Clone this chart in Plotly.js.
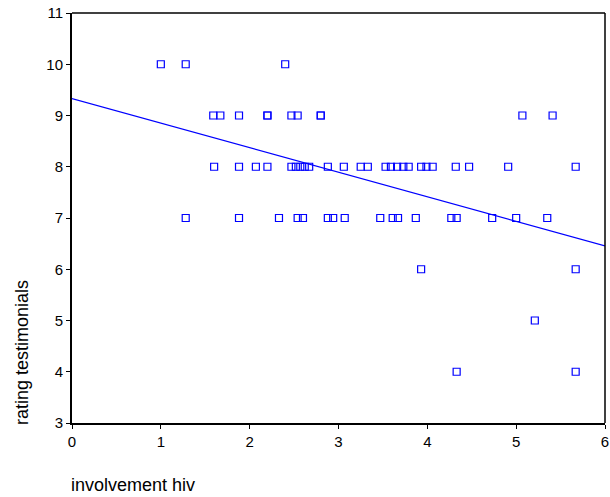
<!DOCTYPE html>
<html>
<head>
<meta charset="utf-8">
<script src="https://cdn.plot.ly/plotly-3.0.1.min.js"></script>
<style>html,body{margin:0;padding:0;background:#fff;}#chart{width:610px;height:497px;}</style>
</head>
<body>
<div id="chart"></div>
<script>
// involvement hiv (x) and rating testimonials (y)
const involvement = [
  1.00, 1.28, 2.40,
  1.59, 1.67, 1.88, 2.20, 2.20, 2.47, 2.54, 2.80, 2.80, 5.07, 5.41,
  1.60, 1.88, 2.07, 2.20, 2.47, 2.52, 2.57, 2.62, 2.67, 2.88, 3.06, 3.25, 3.33,
  3.53, 3.59, 3.66, 3.73, 3.79, 3.93, 3.99, 4.06, 4.32, 4.47, 4.91, 5.67,
  1.28, 1.88, 2.33, 2.54, 2.60, 2.88, 2.94, 3.07, 3.47, 3.61, 3.67, 3.87, 4.27, 4.33, 4.73, 5.00, 5.35,
  3.93, 5.67,
  5.21,
  4.33, 5.67
];
const rating = [
  10, 10, 10,
  9, 9, 9, 9, 9, 9, 9, 9, 9, 9, 9,
  8, 8, 8, 8, 8, 8, 8, 8, 8, 8, 8, 8, 8,
  8, 8, 8, 8, 8, 8, 8, 8, 8, 8, 8, 8,
  7, 7, 7, 7, 7, 7, 7, 7, 7, 7, 7, 7, 7, 7, 7, 7, 7,
  6, 6,
  5,
  4, 4
];
// fitted regression line end points
const fitX = [0, 6];
const fitY = [9.33, 6.455];

const xTicks = [0, 1, 2, 3, 4, 5, 6];
const yTicks = [3, 4, 5, 6, 7, 8, 9, 10, 11];

const blue = '#0000ff';
const font = 'Liberation Sans, Arial, Helvetica, sans-serif';

const data = [
  {
    type: 'scatter', mode: 'markers', x: involvement, y: rating,
    marker: {symbol: 'square-open', size: 7, color: blue, line: {width: 1.2, color: blue}},
    hoverinfo: 'x+y', showlegend: false
  },
  {
    type: 'scatter', mode: 'lines', x: fitX, y: fitY,
    line: {color: blue, width: 1.2}, showlegend: false, hoverinfo: 'skip'
  }
];

const layout = {
  width: 610, height: 497,
  margin: {l: 72, r: 5, t: 13, b: 74, pad: 0},
  paper_bgcolor: '#fff', plot_bgcolor: '#fff',
  font: {family: font, size: 15, color: '#000'},
  showlegend: false,
  xaxis: {
    range: [0, 6], tickvals: xTicks, ticktext: xTicks.map(String),
    showgrid: false, zeroline: false, showline: true, linecolor: '#000', linewidth: 2,
    ticks: 'outside', ticklen: 4, tickwidth: 1, tickcolor: '#000',
    tickfont: {size: 15, color: '#000', family: font}
  },
  yaxis: {
    range: [3, 11], tickvals: yTicks, ticktext: yTicks.map(String),
    showgrid: false, zeroline: false, showline: true, linecolor: '#000', linewidth: 2,
    ticks: 'outside', ticklen: 4, tickwidth: 1, tickcolor: '#000',
    tickfont: {size: 15, color: '#000', family: font}
  },
  shapes: [
    {type: 'line', xref: 'paper', yref: 'paper', x0: 0, x1: 1, y0: 1, y1: 1, line: {color: '#000', width: 1.5}},
    {type: 'line', xref: 'paper', yref: 'paper', x0: 1, x1: 1, y0: 0, y1: 1, line: {color: '#000', width: 1.5}}
  ],
  annotations: [
    {text: 'involvement hiv', xref: 'paper', yref: 'paper', x: -0.006, y: -0.152,
     xanchor: 'left', yanchor: 'middle', showarrow: false, font: {size: 18, family: font, color: '#000'}},
    {text: 'rating testimonials', xref: 'paper', yref: 'paper', x: -0.095, y: -0.01,
     xanchor: 'center', yanchor: 'bottom', textangle: -90, showarrow: false, font: {size: 18, family: font, color: '#000'}}
  ]
};

Plotly.newPlot('chart', data, layout, {displayModeBar: false, staticPlot: true});
</script>
</body>
</html>
